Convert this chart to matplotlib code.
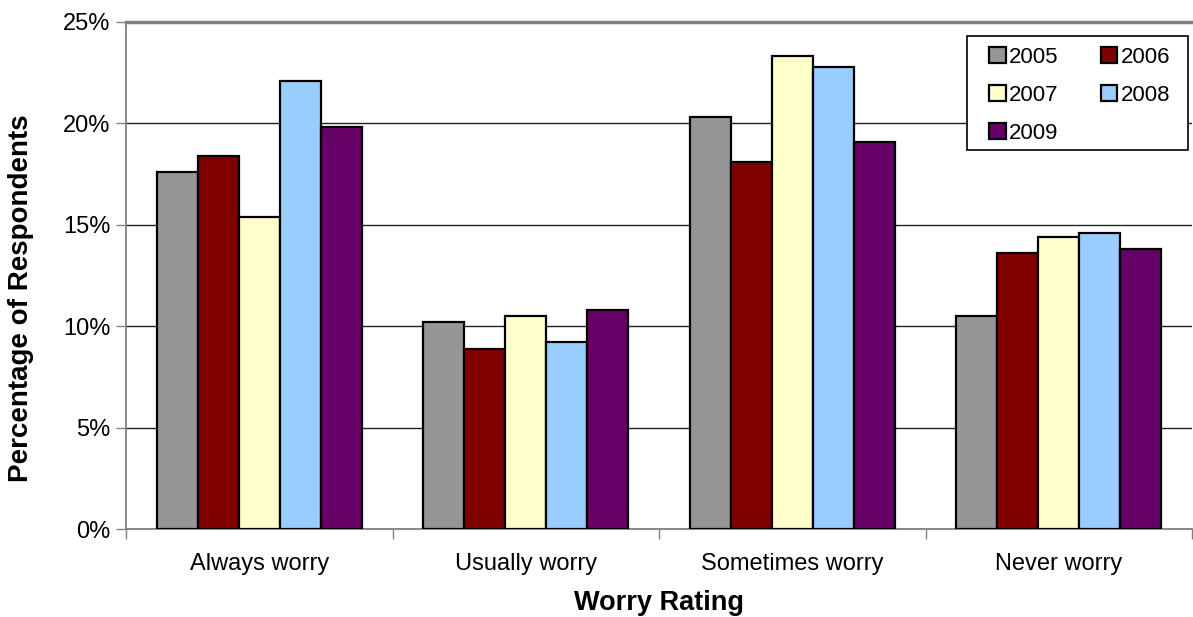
import matplotlib
matplotlib.use("Agg")
import matplotlib.pyplot as plt
import numpy as np
from matplotlib.patches import Rectangle
from matplotlib.ticker import FuncFormatter, FixedLocator

plt.rcParams['font.family'] = ['Liberation Sans', 'DejaVu Sans']

categories = ["Always worry", "Usually worry", "Sometimes worry", "Never worry"]
years = ["2005", "2006", "2007", "2008", "2009"]
values = {
    "2005": [17.6, 10.2, 20.3, 10.5],
    "2006": [18.4, 8.9, 18.1, 13.6],
    "2007": [15.4, 10.5, 23.3, 14.4],
    "2008": [22.1, 9.2, 22.8, 14.6],
    "2009": [19.8, 10.8, 19.1, 13.8],
}
colors = ["#969696", "#800000", "#FFFFCC", "#99CCFF", "#660066"]
y_ticks = [0, 5, 10, 15, 20, 25]

W, H = 1193, 617
fig = plt.figure(figsize=(W / 100, H / 100), dpi=100)
ax = fig.add_axes([126 / W, 1 - 529 / H, (1192 - 126) / W, (529 - 22) / H])

bar_w = 0.154
x = np.arange(len(categories)) + 0.5
handles = []
for i, yr in enumerate(years):
    b = ax.bar(x + (i - 2) * bar_w, values[yr], width=bar_w, color=colors[i],
               edgecolor="black", linewidth=1.6, label=yr, zorder=3)
    handles.append(b)

ax.set_xlim(0, len(categories))
ax.set_ylim(0, 25)
ax.yaxis.set_major_locator(FixedLocator(y_ticks))
ax.yaxis.set_major_formatter(FuncFormatter(lambda v, p: f"{int(v)}%"))
ax.grid(axis="y", color="#202020", linewidth=1.0, zorder=1)

ax.set_xticks(np.arange(len(categories) + 1))
ax.set_xticklabels([])
ax.set_xticks(x, minor=True)
ax.set_xticklabels(categories, minor=True)
ax.tick_params(axis="x", which="minor", length=0, pad=17, labelsize=17)
ax.tick_params(axis="x", which="major", length=7, width=1, color="#808080", direction="out")
ax.tick_params(axis="y", length=7, width=1, color="#808080", labelsize=17, pad=4)

for side in ["left", "bottom", "top"]:
    ax.spines[side].set_color("#808080")
    ax.spines[side].set_linewidth(1.3)
ax.spines["top"].set_linewidth(2.5)
ax.spines["right"].set_visible(False)

ax.set_ylabel("Percentage of Respondents", fontsize=20, fontweight="bold")
ax.yaxis.set_label_coords((34 - 126) / 1066, 1 - (298 - 22) / 507)
ax.set_xlabel("Worry Rating", fontsize=19.5, fontweight="bold", labelpad=11)

# legend: white boxed panel with two columns filled row by row
frame = Rectangle((967 / W, 1 - 150 / H), 221 / W, 114 / H, transform=fig.transFigure,
                  facecolor="white", edgecolor="black", linewidth=1.2, zorder=4)
fig.add_artist(frame)
order = [0, 2, 4, 1, 3]
leg = fig.legend([handles[k] for k in order], [years[k] for k in order], ncol=2,
                 loc="upper left", bbox_to_anchor=(989 / W, 1 - 47 / H),
                 frameon=False, fontsize=16,
                 handlelength=0.75, handleheight=0.75, handletextpad=0.15,
                 columnspacing=1.9, labelspacing=0.76, borderpad=0, borderaxespad=0)
leg.set_zorder(5)

fig.savefig("out.png", dpi=100)
